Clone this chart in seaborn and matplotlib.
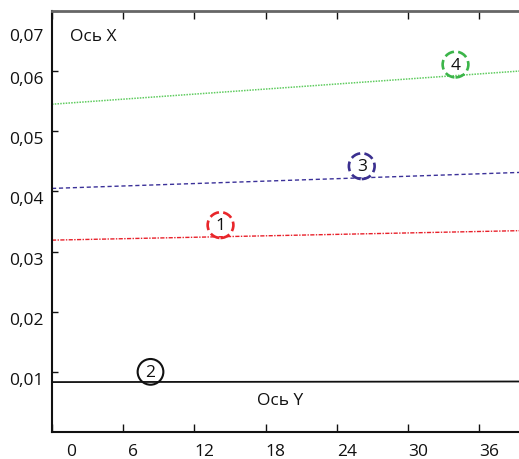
import matplotlib
matplotlib.use("Agg")
import matplotlib.pyplot as plt
import matplotlib.transforms as mtransforms
import numpy as np
import pandas as pd
import seaborn as sns

# ---- data ----
x_ends = [0, 40]
line1 = [0.0319, 0.0335]   # red, dash-dot
line2 = [0.0083, 0.0084]   # black, solid
line3 = [0.0405, 0.0432]   # blue, dashed
line4 = [0.0545, 0.0601]   # green, dotted

marker_ids = ["1", "2", "3", "4"]
marker_x = [14.2, 8.3, 26.1, 34.0]
marker_y = [0.0344, 0.0100, 0.0442, 0.0611]

x_ticks = [0, 6, 12, 18, 24, 30, 36]
x_tick_labels = ["0", "6", "12", "18", "24", "30", "36"]
y_ticks = [0.01, 0.02, 0.03, 0.04, 0.05, 0.06, 0.07]
y_tick_labels = ["0,01", "0,02", "0,03", "0,04", "0,05", "0,06", "0,07"]
axis_x_label = "Ось X"
axis_y_label = "Ось Y"

sns.set_style("ticks")
plt.rcParams["font.family"] = ["Open Sans", "DejaVu Sans"]

fig = plt.figure(figsize=(5.19, 4.60), dpi=100)
ax = fig.add_axes([52 / 519, 1 - 433 / 460, 1 - 52 / 519, (433 - 12) / 460])

series = {
    "1": (line1, "#e8202a", (0, (3, 1, 1, 1)), 1.0),
    "2": (line2, "#111111", "-", 1.3),
    "3": (line3, "#3b3199", (0, (3, 2)), 1.0),
    "4": (line4, "#5fcc5f", (0, (1, 0.8)), 1.1),
}
for key, (vals, col, ls, lw) in series.items():
    df = pd.DataFrame({"x": x_ends, "y": vals})
    sns.lineplot(data=df, x="x", y="y", ax=ax, color=col, linestyle=ls,
                 linewidth=lw, zorder=2)

circle_styles = {
    "1": ("#e8262a", "--", 1.9),
    "2": ("#111111", "-", 1.5),
    "3": ("#3a2f8f", "--", 1.9),
    "4": ("#3cb54a", "--", 1.9),
}
for mid, mx, my in zip(marker_ids, marker_x, marker_y):
    ec, ls, lw = circle_styles[mid]
    ax.text(mx, my, mid, ha="center", va="center", fontsize=12.5, color="#111111",
            zorder=4,
            bbox=dict(boxstyle="circle,pad=0.28", fc="none", ec=ec, ls=ls, lw=lw))

ax.text(3.45, 0.0658, axis_x_label, ha="center", va="center", fontsize=12.5, color="#111111")
ax.text(19.2, 0.0053, axis_y_label, ha="center", va="center", fontsize=12.5, color="#111111")

ax.set_xlim(0, 39.35)
ax.set_ylim(0, 0.07)
ax.set_xticks(x_ticks)
ax.set_xticklabels(x_tick_labels, fontsize=12.5)
ax.set_yticks(y_ticks)
ax.set_yticklabels(y_tick_labels, fontsize=12.5)
ax.set_xlabel("")
ax.set_ylabel("")

ax.tick_params(axis="x", direction="in", length=6, width=1.0, top=True,
               bottom=True, pad=8, colors="#111111")
ax.tick_params(axis="y", direction="in", length=4, width=1.0, pad=6,
               colors="#111111")

for side in ["left", "bottom"]:
    ax.spines[side].set_color("#111111")
    ax.spines[side].set_linewidth(1.5)
ax.spines["top"].set_visible(True)
ax.spines["top"].set_color("#666666")
ax.spines["top"].set_linewidth(2.0)
ax.spines["right"].set_visible(False)

# label offsets as in reference
for lbl in ax.get_xticklabels():
    dx = 19 if lbl.get_text() == "0" else 10
    lbl.set_transform(lbl.get_transform() + mtransforms.ScaledTranslation(dx / 100, 0, fig.dpi_scale_trans))
for lbl in ax.get_yticklabels():
    dy = -23 if lbl.get_text() == "0,07" else -6
    lbl.set_transform(lbl.get_transform() + mtransforms.ScaledTranslation(0, dy / 100, fig.dpi_scale_trans))

fig.savefig("out.png", dpi=100)
